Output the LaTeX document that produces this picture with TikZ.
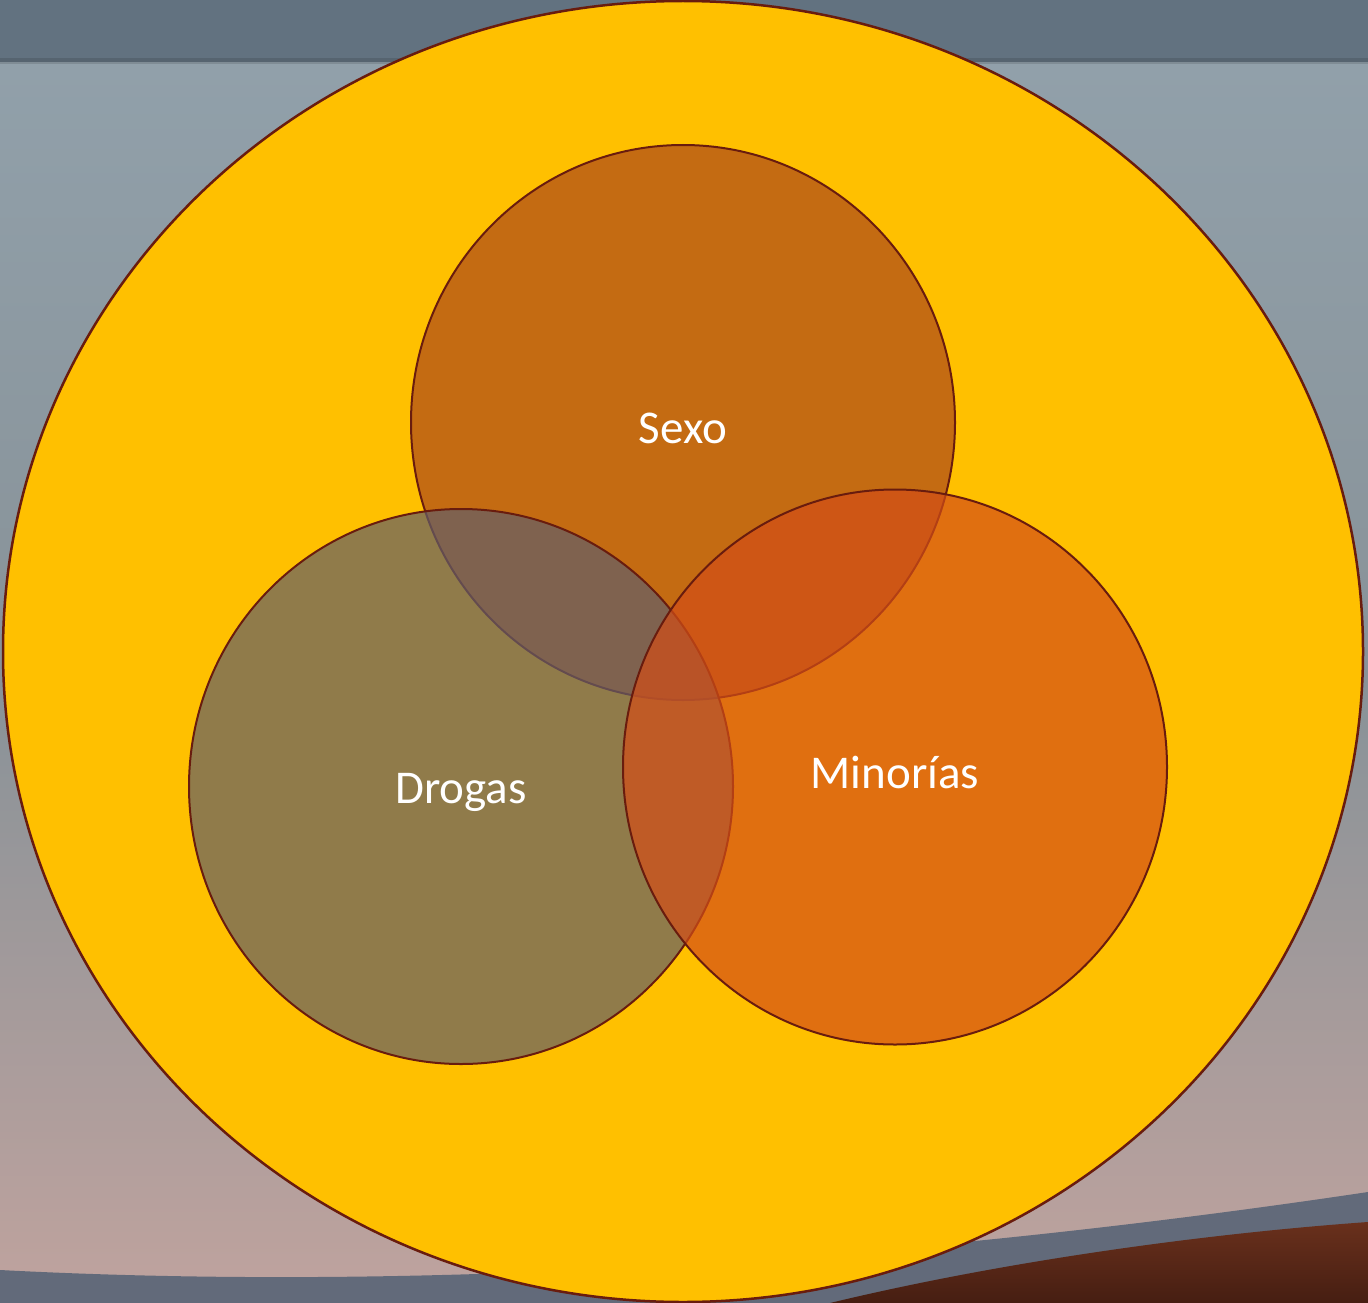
\documentclass[tikz,border=0pt]{standalone}
\usepackage{fontspec}
\setmainfont{Carlito}
\usetikzlibrary{shapes.geometric}
\definecolor{bandtop}{RGB}{98,114,128}
\definecolor{bgA}{RGB}{145,160,170}
\definecolor{bgB}{RGB}{136,146,152}
\definecolor{bgC}{RGB}{192,163,158}
\definecolor{bandlow}{RGB}{98,106,122}
\definecolor{floorA}{RGB}{70,30,18}
\definecolor{floorB}{RGB}{105,48,28}
\definecolor{outery}{RGB}{255,192,0}
\definecolor{edge}{RGB}{105,28,14}
\definecolor{csexo}{RGB}{171,71,27}
\definecolor{cdrogas}{RGB}{98,95,106}
\definecolor{cmin}{RGB}{211,78,23}
\tikzset{
  vennset/.style={ellipse, draw=edge, line width=2pt, fill opacity=0.7, draw opacity=1,
    inner sep=0pt, minimum width=544pt, minimum height=555pt},
  lbl/.style={text=white, font=\fontsize{47}{56}\selectfont, inner sep=0pt}
}
\begin{document}
\begin{tikzpicture}[x=1pt,y=-1pt]
\useasboundingbox (0,0) rectangle (1368,1303);
% background
\shade[top color=bgA, bottom color=bgC, middle color=bgB] (0,62) rectangle (1368,1303);
\fill[bandtop] (0,0) rectangle (1368,62);
\fill[black, opacity=0.12] (0,58) rectangle (1368,64);
\fill[bandlow] (0,1270) .. controls (420,1292) and (900,1262) .. (1368,1192) -- (1368,1303) -- (0,1303) -- cycle;
\shade[top color=floorB, bottom color=floorA] (830,1303) .. controls (1000,1262) and (1200,1234) .. (1368,1222) -- (1368,1303) -- cycle;
% outer ellipse
\node[ellipse, draw=edge, line width=2.5pt, fill=outery, inner sep=0pt,
  minimum width=1360pt, minimum height=1301pt] (outer) at (683,651.5) {};
% sets
\node[vennset, fill=csexo] (sexo) at (683,422.5) {};
\node[vennset, fill=cdrogas] (drogas) at (461,786.5) {};
\node[vennset, fill=cmin] (minorias) at (895,767) {};
% labels
\node[lbl] (tsexo) at (683,428) {Sexo};
\node[lbl] (tdrogas) at (461,792) {Drogas};
\node[lbl] (tmin) at (895,772) {Minorías};
\end{tikzpicture}
\end{document}
